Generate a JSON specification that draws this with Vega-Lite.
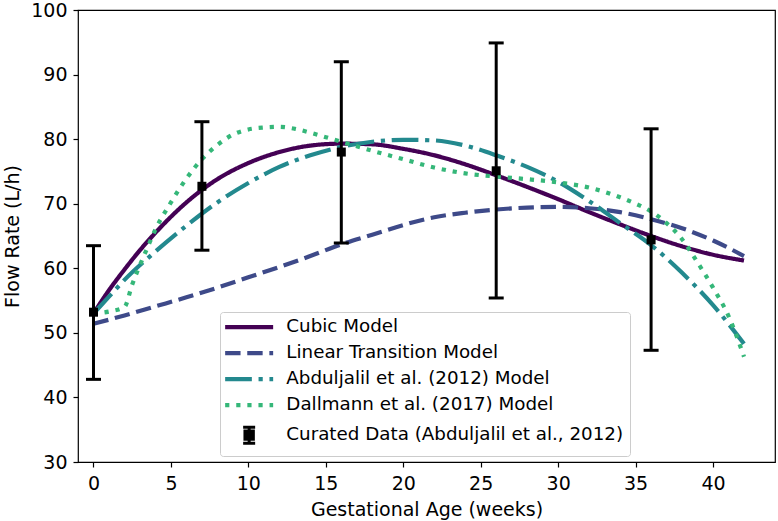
{
  "$schema": "https://vega.github.io/schema/vega-lite/v6.json",
  "width": 697,
  "height": 452,
  "autosize": {"type": "none"},
  "padding": {"left": 78, "top": 10, "right": 3, "bottom": 59},
  "background": "white",
  "config": {
    "view": {"stroke": "black", "strokeWidth": 1.2},
    "font": "DejaVu Sans",
    "axis": {
      "domain": false, "grid": false, "tickColor": "black", "tickSize": 5, "tickWidth": 1.2,
      "labelFont": "DejaVu Sans", "labelFontSize": 19, "labelColor": "black",
      "titleFont": "DejaVu Sans", "titleFontSize": 19, "titleFontWeight": "normal", "titleColor": "black"
    }
  },
  "datasets": {
    "curves": [
      {"series": "Cubic Model", "week": 0, "value": 53.0},
      {"series": "Cubic Model", "week": 1, "value": 56.6},
      {"series": "Cubic Model", "week": 2, "value": 59.8},
      {"series": "Cubic Model", "week": 3, "value": 62.8},
      {"series": "Cubic Model", "week": 4, "value": 65.5},
      {"series": "Cubic Model", "week": 6, "value": 70.2},
      {"series": "Cubic Model", "week": 8, "value": 73.8},
      {"series": "Cubic Model", "week": 10, "value": 76.3},
      {"series": "Cubic Model", "week": 12, "value": 78.0},
      {"series": "Cubic Model", "week": 14, "value": 79.0},
      {"series": "Cubic Model", "week": 16, "value": 79.3},
      {"series": "Cubic Model", "week": 18, "value": 79.2},
      {"series": "Cubic Model", "week": 20, "value": 78.5},
      {"series": "Cubic Model", "week": 22, "value": 77.5},
      {"series": "Cubic Model", "week": 24, "value": 76.1},
      {"series": "Cubic Model", "week": 26, "value": 74.4},
      {"series": "Cubic Model", "week": 28, "value": 72.6},
      {"series": "Cubic Model", "week": 30, "value": 70.7},
      {"series": "Cubic Model", "week": 32, "value": 68.7},
      {"series": "Cubic Model", "week": 34, "value": 66.8},
      {"series": "Cubic Model", "week": 36, "value": 65.0},
      {"series": "Cubic Model", "week": 38, "value": 63.4},
      {"series": "Cubic Model", "week": 40, "value": 62.1},
      {"series": "Cubic Model", "week": 42, "value": 61.2},
      {"series": "Linear Transition Model", "week": 0, "value": 51.4},
      {"series": "Linear Transition Model", "week": 2, "value": 52.7},
      {"series": "Linear Transition Model", "week": 4, "value": 54.1},
      {"series": "Linear Transition Model", "week": 6, "value": 55.5},
      {"series": "Linear Transition Model", "week": 8, "value": 57.0},
      {"series": "Linear Transition Model", "week": 10, "value": 58.6},
      {"series": "Linear Transition Model", "week": 12, "value": 60.2},
      {"series": "Linear Transition Model", "week": 14, "value": 61.9},
      {"series": "Linear Transition Model", "week": 16, "value": 63.7},
      {"series": "Linear Transition Model", "week": 18, "value": 65.2},
      {"series": "Linear Transition Model", "week": 20, "value": 66.7},
      {"series": "Linear Transition Model", "week": 22, "value": 67.9},
      {"series": "Linear Transition Model", "week": 24, "value": 68.6},
      {"series": "Linear Transition Model", "week": 26, "value": 69.1},
      {"series": "Linear Transition Model", "week": 28, "value": 69.4},
      {"series": "Linear Transition Model", "week": 30, "value": 69.5},
      {"series": "Linear Transition Model", "week": 32, "value": 69.3},
      {"series": "Linear Transition Model", "week": 34, "value": 68.7},
      {"series": "Linear Transition Model", "week": 36, "value": 67.6},
      {"series": "Linear Transition Model", "week": 38, "value": 66.2},
      {"series": "Linear Transition Model", "week": 40, "value": 64.3},
      {"series": "Linear Transition Model", "week": 42, "value": 61.9},
      {"series": "Abduljalil et al. (2012) Model", "week": 0, "value": 53.0},
      {"series": "Abduljalil et al. (2012) Model", "week": 1, "value": 55.6},
      {"series": "Abduljalil et al. (2012) Model", "week": 2, "value": 58.2},
      {"series": "Abduljalil et al. (2012) Model", "week": 4, "value": 62.6},
      {"series": "Abduljalil et al. (2012) Model", "week": 6, "value": 66.6},
      {"series": "Abduljalil et al. (2012) Model", "week": 8, "value": 70.2},
      {"series": "Abduljalil et al. (2012) Model", "week": 10, "value": 73.2},
      {"series": "Abduljalil et al. (2012) Model", "week": 12, "value": 75.7},
      {"series": "Abduljalil et al. (2012) Model", "week": 14, "value": 77.5},
      {"series": "Abduljalil et al. (2012) Model", "week": 16, "value": 78.8},
      {"series": "Abduljalil et al. (2012) Model", "week": 18, "value": 79.6},
      {"series": "Abduljalil et al. (2012) Model", "week": 20, "value": 79.9},
      {"series": "Abduljalil et al. (2012) Model", "week": 22, "value": 79.8},
      {"series": "Abduljalil et al. (2012) Model", "week": 24, "value": 79.0},
      {"series": "Abduljalil et al. (2012) Model", "week": 26, "value": 77.5},
      {"series": "Abduljalil et al. (2012) Model", "week": 28, "value": 75.7},
      {"series": "Abduljalil et al. (2012) Model", "week": 30, "value": 73.4},
      {"series": "Abduljalil et al. (2012) Model", "week": 32, "value": 70.4},
      {"series": "Abduljalil et al. (2012) Model", "week": 34, "value": 67.0},
      {"series": "Abduljalil et al. (2012) Model", "week": 36, "value": 63.6},
      {"series": "Abduljalil et al. (2012) Model", "week": 38, "value": 59.3},
      {"series": "Abduljalil et al. (2012) Model", "week": 40, "value": 54.3},
      {"series": "Abduljalil et al. (2012) Model", "week": 42, "value": 48.3},
      {"series": "Dallmann et al. (2017) Model", "week": 0, "value": 53.0},
      {"series": "Dallmann et al. (2017) Model", "week": 1, "value": 53.3},
      {"series": "Dallmann et al. (2017) Model", "week": 2, "value": 54.0},
      {"series": "Dallmann et al. (2017) Model", "week": 2.5, "value": 57.5},
      {"series": "Dallmann et al. (2017) Model", "week": 3, "value": 60.5},
      {"series": "Dallmann et al. (2017) Model", "week": 3.5, "value": 63.3},
      {"series": "Dallmann et al. (2017) Model", "week": 4, "value": 66.0},
      {"series": "Dallmann et al. (2017) Model", "week": 5, "value": 70.2},
      {"series": "Dallmann et al. (2017) Model", "week": 6, "value": 73.9},
      {"series": "Dallmann et al. (2017) Model", "week": 7, "value": 76.9},
      {"series": "Dallmann et al. (2017) Model", "week": 8, "value": 79.1},
      {"series": "Dallmann et al. (2017) Model", "week": 9, "value": 80.7},
      {"series": "Dallmann et al. (2017) Model", "week": 10, "value": 81.5},
      {"series": "Dallmann et al. (2017) Model", "week": 11, "value": 81.8},
      {"series": "Dallmann et al. (2017) Model", "week": 12, "value": 81.9},
      {"series": "Dallmann et al. (2017) Model", "week": 13, "value": 81.6},
      {"series": "Dallmann et al. (2017) Model", "week": 14, "value": 81.0},
      {"series": "Dallmann et al. (2017) Model", "week": 15, "value": 80.3},
      {"series": "Dallmann et al. (2017) Model", "week": 16, "value": 79.6},
      {"series": "Dallmann et al. (2017) Model", "week": 18, "value": 78.2},
      {"series": "Dallmann et al. (2017) Model", "week": 20, "value": 76.9},
      {"series": "Dallmann et al. (2017) Model", "week": 22, "value": 75.6},
      {"series": "Dallmann et al. (2017) Model", "week": 24, "value": 74.7},
      {"series": "Dallmann et al. (2017) Model", "week": 26, "value": 74.2},
      {"series": "Dallmann et al. (2017) Model", "week": 28, "value": 73.8},
      {"series": "Dallmann et al. (2017) Model", "week": 30, "value": 73.3},
      {"series": "Dallmann et al. (2017) Model", "week": 32, "value": 72.5},
      {"series": "Dallmann et al. (2017) Model", "week": 34, "value": 71.0},
      {"series": "Dallmann et al. (2017) Model", "week": 35, "value": 70.0},
      {"series": "Dallmann et al. (2017) Model", "week": 36, "value": 68.8},
      {"series": "Dallmann et al. (2017) Model", "week": 37, "value": 67.0},
      {"series": "Dallmann et al. (2017) Model", "week": 38, "value": 64.5},
      {"series": "Dallmann et al. (2017) Model", "week": 39, "value": 60.9},
      {"series": "Dallmann et al. (2017) Model", "week": 40, "value": 57.0},
      {"series": "Dallmann et al. (2017) Model", "week": 41, "value": 52.6},
      {"series": "Dallmann et al. (2017) Model", "week": 42, "value": 46.3}
    ],
    "points": [
      {"week": 0, "mean": 53.2, "lo": 42.8, "hi": 63.5},
      {"week": 7, "mean": 72.7, "lo": 62.8, "hi": 82.7},
      {"week": 16, "mean": 78.0, "lo": 63.9, "hi": 92.0},
      {"week": 26, "mean": 75.1, "lo": 55.4, "hi": 94.9},
      {"week": 36, "mean": 64.4, "lo": 47.3, "hi": 81.6}
    ]
  },
  "layer": [
    {
      "data": {"name": "curves"},
      "mark": {"type": "line", "strokeWidth": 4.2, "interpolate": "monotone", "strokeCap": "butt"},
      "encoding": {
        "x": {
          "field": "week", "type": "quantitative", "title": "Gestational Age (weeks)",
          "scale": {"domain": [-1, 44], "nice": false, "zero": false},
          "axis": {"values": [0, 5, 10, 15, 20, 25, 30, 35, 40], "labelPadding": 7, "titleX": 348.5, "titleY": 53, "titleAlign": "center", "titleBaseline": "alphabetic", "labelFlush": false}
        },
        "y": {
          "field": "value", "type": "quantitative", "title": "Flow Rate (L/h)",
          "scale": {"domain": [30, 100], "nice": false, "zero": false},
          "axis": {"values": [30, 40, 50, 60, 70, 80, 90, 100], "labelPadding": 6, "titleX": -60, "titleY": 226, "titleAngle": -90, "titleAlign": "center", "titleBaseline": "alphabetic", "labelFlush": false}
        },
        "color": {
          "field": "series", "type": "nominal",
          "scale": {
            "domain": ["Cubic Model", "Linear Transition Model", "Abduljalil et al. (2012) Model", "Dallmann et al. (2017) Model", "Curated Data (Abduljalil et al., 2012)"],
            "range": ["#440154", "#3e4a89", "#23898e", "#35b779", "#000000"]
          },
          "legend": {
            "title": null, "orient": "none", "legendX": 142, "legendY": 302,
            "symbolSize": 400, "symbolOffset": 14, "symbolStrokeWidth": 4.2, "labelOffset": 28,
            "labelFont": "DejaVu Sans", "labelFontSize": 18.3, "labelColor": "black", "labelLimit": 0,
            "padding": 6, "rowPadding": 7, "strokeColor": "#cccccc", "fillColor": "rgba(255,255,255,0.85)", "cornerRadius": 3,
            "encode": {
              "symbols": {
                "update": {
                  "shape": {"signal": "datum.value === 'Curated Data (Abduljalil et al., 2012)' ? 'M-0.6,-0.8H0.6M0,-0.8V0.8M-0.6,0.8H0.6M-0.42,-0.42H0.42V0.42H-0.42Z' : 'M-2.4,0H2.4'"},
                  "fill": {"signal": "datum.value === 'Curated Data (Abduljalil et al., 2012)' ? 'black' : 'transparent'"},
                  "strokeWidth": {"signal": "datum.value === 'Curated Data (Abduljalil et al., 2012)' ? 3 : 4.2"}
                }
              }
            }
          }
        },
        "strokeDash": {
          "field": "series", "type": "nominal",
          "scale": {
            "domain": ["Cubic Model", "Linear Transition Model", "Abduljalil et al. (2012) Model", "Dallmann et al. (2017) Model", "Curated Data (Abduljalil et al., 2012)"],
            "range": [[1, 0], [15.4, 6.7], [26.7, 6.7, 4.2, 6.7], [4.2, 6.9], [1, 0]]
          },
          "legend": {
            "title": null, "orient": "none", "legendX": 142, "legendY": 302,
            "symbolSize": 400, "symbolOffset": 14, "symbolStrokeWidth": 4.2, "labelOffset": 28,
            "labelFont": "DejaVu Sans", "labelFontSize": 18.3, "labelColor": "black", "labelLimit": 0,
            "padding": 6, "rowPadding": 7, "strokeColor": "#cccccc", "fillColor": "rgba(255,255,255,0.85)", "cornerRadius": 3,
            "encode": {
              "symbols": {
                "update": {
                  "shape": {"signal": "datum.value === 'Curated Data (Abduljalil et al., 2012)' ? 'M-0.6,-0.8H0.6M0,-0.8V0.8M-0.6,0.8H0.6M-0.42,-0.42H0.42V0.42H-0.42Z' : 'M-2.4,0H2.4'"},
                  "fill": {"signal": "datum.value === 'Curated Data (Abduljalil et al., 2012)' ? 'black' : 'transparent'"},
                  "strokeWidth": {"signal": "datum.value === 'Curated Data (Abduljalil et al., 2012)' ? 3 : 4.2"}
                }
              }
            }
          }
        }
      }
    },
    {
      "data": {"name": "points"},
      "mark": {"type": "rule", "strokeWidth": 3, "color": "black"},
      "encoding": {
        "x": {"field": "week", "type": "quantitative", "title": "Gestational Age (weeks)"},
        "y": {"field": "lo", "type": "quantitative", "title": "Flow Rate (L/h)"},
        "y2": {"field": "hi"}
      }
    },
    {
      "data": {"name": "points"},
      "mark": {"type": "tick", "orient": "horizontal", "size": 15, "thickness": 3, "color": "black", "opacity": 1},
      "encoding": {
        "x": {"field": "week", "type": "quantitative", "title": "Gestational Age (weeks)"},
        "y": {"field": "lo", "type": "quantitative", "title": "Flow Rate (L/h)"}
      }
    },
    {
      "data": {"name": "points"},
      "mark": {"type": "tick", "orient": "horizontal", "size": 15, "thickness": 3, "color": "black", "opacity": 1},
      "encoding": {
        "x": {"field": "week", "type": "quantitative", "title": "Gestational Age (weeks)"},
        "y": {"field": "hi", "type": "quantitative", "title": "Flow Rate (L/h)"}
      }
    },
    {
      "data": {"name": "points"},
      "mark": {"type": "point", "shape": "square", "filled": true, "size": 81, "color": "black", "opacity": 1},
      "encoding": {
        "x": {"field": "week", "type": "quantitative", "title": "Gestational Age (weeks)"},
        "y": {"field": "mean", "type": "quantitative", "title": "Flow Rate (L/h)"}
      }
    }
  ]
}
